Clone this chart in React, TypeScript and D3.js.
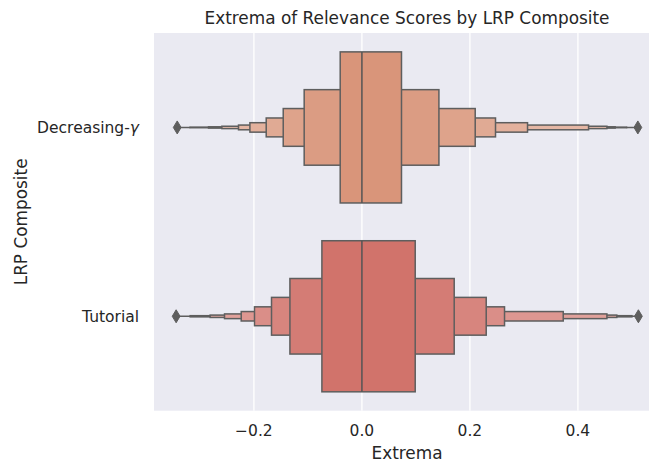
import React from "react";
import * as d3 from "d3";

const categories = ["Decreasing-γ", "Tutorial"];
const baseColors = ["#d9957a", "#d1736b"];
// letter-value box ends, innermost first
const decLower = [-0.0402, -0.1069, -0.1457, -0.1772, -0.2074, -0.2285, -0.2593, -0.284, -0.318];
const decUpper = [0.0733, 0.1426, 0.2098, 0.2474, 0.3067, 0.4197, 0.4537, 0.469, 0.49];
const tutLower = [-0.0741, -0.1333, -0.1674, -0.1989, -0.2235, -0.2544, -0.281, -0.318];
const tutUpper = [0.0987, 0.1709, 0.2302, 0.2641, 0.3728, 0.4537, 0.472, 0.5];
const medians = [0.0, 0.0];
const outliers = [
  [-0.342, 0.511],
  [-0.344, 0.512],
];
const xTicks = [-0.2, 0.0, 0.2, 0.4];

const W = 649;
const H = 464;
const left = 154;
const right = 660;
const top = 33;
const bottom = 410.7;

export default function App() {
  const x = d3.scaleLinear().domain([-0.385, 0.552]).range([left, right]);
  const y = d3.scaleBand().domain(categories).range([top, bottom]).paddingInner(0).paddingOuter(0);
  const band = y.bandwidth();
  const groups = [
    { lo: decLower, hi: decUpper },
    { lo: tutLower, hi: tutUpper },
  ];
  const font = "'DejaVu Sans', sans-serif";
  const txt = "#262626";
  const edge = "#5e5e5e";
  const fmt = (v: number) => (v < 0 ? "\u2212" : "") + Math.abs(v).toFixed(1);
  const tickSize = 15.5;
  const labelSize = 16.9;

  const renderCat = (c: string) => {
    if (c.endsWith("γ")) {
      return (
        <>
          {c.slice(0, -1)}
          <tspan fontStyle="italic">γ</tspan>
        </>
      );
    }
    return c;
  };

  return (
    <svg width={W} height={H} style={{ position: "absolute", left: 0, top: 0 }}>
      <defs>
        <clipPath id="clip">
          <rect x={left} y={top} width={W - left} height={bottom - top} />
        </clipPath>
      </defs>
      <rect x={0} y={0} width={W} height={H} fill="#ffffff" />
      <rect x={left} y={top} width={right - left} height={bottom - top} fill="#eaeaf2" />
      {xTicks.map((t) => (
        <line key={t} x1={x(t)} x2={x(t)} y1={top} y2={bottom} stroke="#ffffff" strokeWidth={1.3} />
      ))}
      <g clipPath="url(#clip)">
        {groups.map((g, gi) => {
          const cy = (y(categories[gi]) as number) + band / 2;
          const n = g.lo.length;
          const boxes = g.lo.map((lo, i) => {
            const h = band * 0.8 * Math.pow(0.5, i);
            const col = d3.interpolateRgb(baseColors[gi], "#ffffff")(0.065 * i);
            return { lo, hi: g.hi[i], h, col, i };
          });
          const boxW = band * 0.8;
          return (
            <g key={gi}>
              {boxes
                .slice()
                .reverse()
                .map((b) => (
                  <rect
                    key={b.i}
                    x={x(b.lo)}
                    y={cy - b.h / 2}
                    width={x(b.hi) - x(b.lo)}
                    height={b.h}
                    fill={b.col}
                    stroke={edge}
                    strokeWidth={1.5}
                  />
                ))}
              <line
                x1={x(outliers[gi][0])}
                x2={x(g.lo[n - 1])}
                y1={cy}
                y2={cy}
                stroke={edge}
                strokeWidth={1.5}
              />
              <line
                x1={x(g.hi[n - 1])}
                x2={x(outliers[gi][1])}
                y1={cy}
                y2={cy}
                stroke={edge}
                strokeWidth={1.5}
              />
              <line
                x1={x(medians[gi])}
                x2={x(medians[gi])}
                y1={cy - boxW / 2}
                y2={cy + boxW / 2}
                stroke="#555555"
                strokeWidth={1.5}
              />
              {outliers[gi].map((o, oi) => (
                <path
                  key={oi}
                  d={`M${x(o)},${cy - 6.5} L${x(o) + 3.9},${cy} L${x(o)},${cy + 6.5} L${x(o) - 3.9},${cy} Z`}
                  fill={edge}
                  stroke={edge}
                  strokeWidth={1}
                />
              ))}
            </g>
          );
        })}
      </g>
      {xTicks.map((t) => (
        <text
          key={t}
          x={x(t)}
          y={436.3}
          textAnchor="middle"
          fontFamily={font}
          fontSize={tickSize}
          fill={txt}
        >
          {fmt(t)}
        </text>
      ))}
      {categories.map((c) => (
        <text
          key={c}
          x={139}
          y={(y(c) as number) + band / 2}
          dy="0.36em"
          textAnchor="end"
          fontFamily={font}
          fontSize={tickSize}
          fill={txt}
        >
          {renderCat(c)}
        </text>
      ))}
      <text x={(left + right) / 2} y={459.3} textAnchor="middle" fontFamily={font} fontSize={labelSize} fill={txt}>
        Extrema
      </text>
      <text
        transform={`translate(26.5,${(top + bottom) / 2}) rotate(-90)`}
        textAnchor="middle"
        fontFamily={font}
        fontSize={labelSize}
        fill={txt}
      >
        LRP Composite
      </text>
      <text x={(left + right) / 2} y={24} textAnchor="middle" fontFamily={font} fontSize={labelSize} fill={txt}>
        Extrema of Relevance Scores by LRP Composite
      </text>
    </svg>
  );
}
